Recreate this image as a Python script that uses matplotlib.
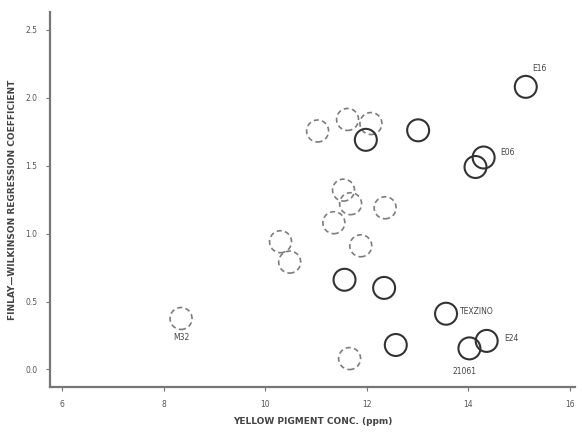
import matplotlib
matplotlib.use("Agg")
import matplotlib.pyplot as plt

# solid circles (named genotypes + others)
solid_x = [15.13, 13.01, 11.98, 14.30, 14.14, 11.56, 12.34, 13.56, 14.36, 14.02, 12.57]
solid_y = [2.08, 1.76, 1.69, 1.56, 1.49, 0.66, 0.60, 0.41, 0.21, 0.155, 0.18]

# dashed circles
dash_x = [11.03, 11.62, 12.08, 11.54, 11.68, 12.36, 11.35, 11.88, 10.30, 10.48, 8.34, 11.66]
dash_y = [1.755, 1.84, 1.81, 1.32, 1.22, 1.19, 1.08, 0.91, 0.94, 0.79, 0.375, 0.08]

# labels: text, point x, point y, offset in pixels (left edge of text)
labels = [("E16", 15.13, 2.08, (6, 18)),
          ("E06", 14.30, 1.56, (17, 5)),
          ("TEXZINO", 13.56, 0.41, (14, 2)),
          ("E24", 14.36, 0.21, (18, 2)),
          ("21061", 14.02, 0.155, (-17, -23)),
          ("M32", 8.34, 0.375, (-8, -19))]

fig = plt.figure(figsize=(5.82, 4.33), dpi=100)
ax = fig.add_axes([0.086, 0.106, 0.902, 0.866])

ax.scatter(dash_x, dash_y, s=250, facecolors="none", edgecolors="#7d7d7d",
           linewidths=1.2, linestyle=(0, (3, 2)), zorder=2)
ax.scatter(solid_x, solid_y, s=250, facecolors="none", edgecolors="#333333",
           linewidths=1.5, zorder=3)

for text, x, y, off in labels:
    ax.annotate(text, (x, y), xytext=off, textcoords="offset pixels",
                ha="left", va="center", fontsize=5.5, color="#444444")

ax.set_xlim(5.76, 16.1)
ax.set_ylim(-0.13, 2.63)
ax.set_xticks([6, 8, 10, 12, 14, 16])
ax.set_xticklabels(["6", "8", "10", "12", "14", "16"])
ax.set_yticks([0.0, 0.5, 1.0, 1.5, 2.0, 2.5])
ax.set_yticklabels(["0.0", "0.5", "1.0", "1.5", "2.0", "2.5"])

for side in ["top", "right"]:
    ax.spines[side].set_visible(False)
for side in ["left", "bottom"]:
    ax.spines[side].set_color("#777777")
    ax.spines[side].set_linewidth(1.6)

ax.tick_params(axis="both", direction="out", length=3, width=0.8, colors="#777777",
               labelsize=5.5, labelcolor="#555555", pad=6)

ax.set_xlabel("YELLOW PIGMENT CONC. (ppm)", fontsize=6.5, fontweight="bold",
              color="#444444", labelpad=6)
ax.set_ylabel("FINLAY\u2014WILKINSON REGRESSION COEFFICIENT", fontsize=6.5,
              fontweight="bold", color="#444444", labelpad=6)

fig.savefig("out.png", dpi=100)
